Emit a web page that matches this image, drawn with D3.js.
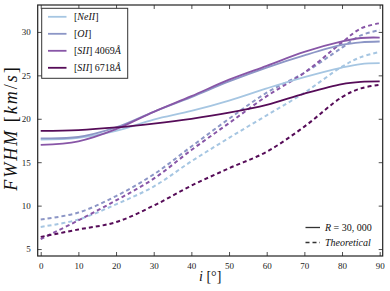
<!DOCTYPE html>
<html>
<head>
<meta charset="utf-8">
<script src="https://cdn.jsdelivr.net/npm/d3@7"></script>
<style>
  body { margin: 0; background: #fff; }
  text { font-family: "Liberation Serif", "DejaVu Serif", serif; }
</style>
</head>
<body>
<div id="chart"></div>
<script>
// inclination angles (deg)
var incl = [0, 10, 20, 30, 40, 50, 60, 70, 80, 85, 90];

// R = 30,000 (solid)
var neii_obs   = [17.6, 17.8, 18.6, 19.9, 20.9, 22.1, 23.5, 24.8, 25.9, 26.3, 26.4];
var oi_obs     = [17.75, 17.9, 19.0, 20.8, 22.5, 24.3, 25.9, 27.3, 28.5, 28.8, 28.9];
var sii4069_obs = [17.0, 17.4, 18.8, 20.8, 22.6, 24.5, 26.1, 27.7, 28.9, 29.3, 29.35];
var sii6718_obs = [18.6, 18.7, 19.0, 19.45, 20.0, 20.7, 21.6, 22.9, 24.0, 24.25, 24.3];

// theoretical (dashed)
var neii_th    = [7.55, 8.4, 10.15, 12.2, 15.1, 17.8, 20.4, 23.0, 26.0, 27.1, 27.7];
var oi_th      = [8.4, 9.2, 11.1, 13.6, 16.8, 20.0, 23.0, 25.3, 28.2, 29.6, 30.2];
var sii4069_th = [6.15, 8.3, 10.6, 13.1, 16.4, 19.5, 22.6, 25.3, 28.8, 30.4, 31.0];
var sii6718_th = [6.4, 7.25, 8.1, 10.0, 12.3, 14.3, 16.2, 19.1, 22.5, 23.5, 23.9];

var lineNames = ["[NeII]", "[OI]", "[SII] 4069 Å", "[SII] 6718 Å"];
var xTicks = [0, 10, 20, 30, 40, 50, 60, 70, 80, 90];
var yTicks = [5, 10, 15, 20, 25, 30];

var colors = ["#a6c6e2", "#8c96c6", "#8856a7", "#560c58"];

var W = 390, H = 291;
var margin = { top: 5, right: 7.3, bottom: 35, left: 37.7 };
var width = W - margin.left - margin.right;
var height = H - margin.top - margin.bottom;

var svg = d3.select("#chart").append("svg")
  .attr("width", W)
  .attr("height", H);

var g = svg.append("g")
  .attr("transform", "translate(" + margin.left + "," + margin.top + ")");

var x = d3.scaleLinear().domain([-0.8, 90.8]).range([0, width]);
var y = d3.scaleLinear().domain([4.2, 33.1]).range([height, 0]);

var line = d3.line()
  .x(function(d) { return x(d[0]); })
  .y(function(d) { return y(d[1]); })
  .curve(d3.curveCatmullRom);

g.append("clipPath").attr("id", "clip")
  .append("rect").attr("width", width).attr("height", height);

var plot = g.append("g").attr("clip-path", "url(#clip)");

var obs = [neii_obs, oi_obs, sii4069_obs, sii6718_obs];
var th = [neii_th, oi_th, sii4069_th, sii6718_th];

th.forEach(function(s, i) {
  plot.append("path")
    .datum(incl.map(function(v, j) { return [v, s[j]]; }))
    .attr("d", line)
    .attr("fill", "none")
    .attr("stroke", colors[i])
    .attr("stroke-width", 2)
    .attr("stroke-dasharray", "4,3");
});

obs.forEach(function(s, i) {
  plot.append("path")
    .datum(incl.map(function(v, j) { return [v, s[j]]; }))
    .attr("d", line)
    .attr("fill", "none")
    .attr("stroke", colors[i])
    .attr("stroke-width", 1.8);
});

// axes with inward ticks on all sides
var tickLen = 4;
function styleAxis(sel) {
  sel.select(".domain").remove();
  sel.selectAll("line").attr("stroke", "#222").attr("stroke-width", 0.8);
  sel.selectAll("text").attr("font-size", "9px").attr("fill", "#222");
}

g.append("g")
  .attr("transform", "translate(0," + height + ")")
  .call(d3.axisBottom(x).tickValues(xTicks).tickSizeInner(-tickLen).tickSizeOuter(0).tickPadding(7))
  .call(styleAxis);

g.append("g")
  .call(d3.axisTop(x).tickValues(xTicks).tickSizeInner(-tickLen).tickSizeOuter(0).tickFormat(""))
  .call(styleAxis);

g.append("g")
  .call(d3.axisLeft(y).tickValues(yTicks).tickSizeInner(-tickLen).tickSizeOuter(0).tickPadding(7))
  .call(styleAxis);

g.append("g")
  .attr("transform", "translate(" + width + ",0)")
  .call(d3.axisRight(y).tickValues(yTicks).tickSizeInner(-tickLen).tickSizeOuter(0).tickFormat(""))
  .call(styleAxis);

g.append("rect")
  .attr("width", width)
  .attr("height", height)
  .attr("fill", "none")
  .attr("stroke", "#222")
  .attr("stroke-width", 1.2);

// axis labels
svg.append("text")
  .attr("transform", "translate(17,128) rotate(-90)")
  .attr("text-anchor", "middle")
  .attr("font-size", "18px")
  .attr("letter-spacing", "2px")
  .attr("fill", "#111")
  .html('<tspan font-style="italic">FWHM</tspan> [<tspan font-style="italic">km</tspan>/<tspan font-style="italic">s</tspan>]');

svg.append("text")
  .attr("x", margin.left + x(45))
  .attr("y", 281)
  .attr("text-anchor", "middle")
  .attr("font-size", "14px")
  .attr("fill", "#111")
  .html('<tspan font-style="italic">i</tspan> [°]');

// line legend (top-left, boxed)
var leg = svg.append("g");
leg.append("rect")
  .attr("x", 41.7).attr("y", 8.3)
  .attr("width", 86).attr("height", 70)
  .attr("fill", "#fff")
  .attr("stroke", "#333")
  .attr("stroke-width", 1);

var legLabels = [
  '[<tspan font-style="italic">NeII</tspan>]',
  '[<tspan font-style="italic">OI</tspan>]',
  '[<tspan font-style="italic">SII</tspan>] 4069<tspan font-style="italic">Å</tspan>',
  '[<tspan font-style="italic">SII</tspan>] 6718<tspan font-style="italic">Å</tspan>'
];

lineNames.forEach(function(n, i) {
  var ly = 16.8 + i * 17;
  leg.append("line")
    .attr("x1", 48).attr("x2", 66.5)
    .attr("y1", ly).attr("y2", ly)
    .attr("stroke", colors[i])
    .attr("stroke-width", 1.8);
  leg.append("text")
    .attr("x", 74)
    .attr("y", ly + 3.5)
    .attr("font-size", "10px")
    .attr("fill", "#111")
    .html(legLabels[i]);
});

// style legend (bottom-right)
var styles = [
  { dash: null, label: '<tspan font-style="italic">R</tspan> = 30, 000' },
  { dash: "4,3", label: '<tspan font-style="italic">Theoretical</tspan>' }
];
styles.forEach(function(s, i) {
  var ly = 227.5 + i * 15;
  svg.append("line")
    .attr("x1", 305.5).attr("x2", 320)
    .attr("y1", ly).attr("y2", ly)
    .attr("stroke", "#333")
    .attr("stroke-width", 1.3)
    .attr("stroke-dasharray", s.dash);
  svg.append("text")
    .attr("x", 325)
    .attr("y", ly + 3.5)
    .attr("font-size", "10px")
    .attr("fill", "#111")
    .html(s.label);
});
</script>
</body>
</html>
